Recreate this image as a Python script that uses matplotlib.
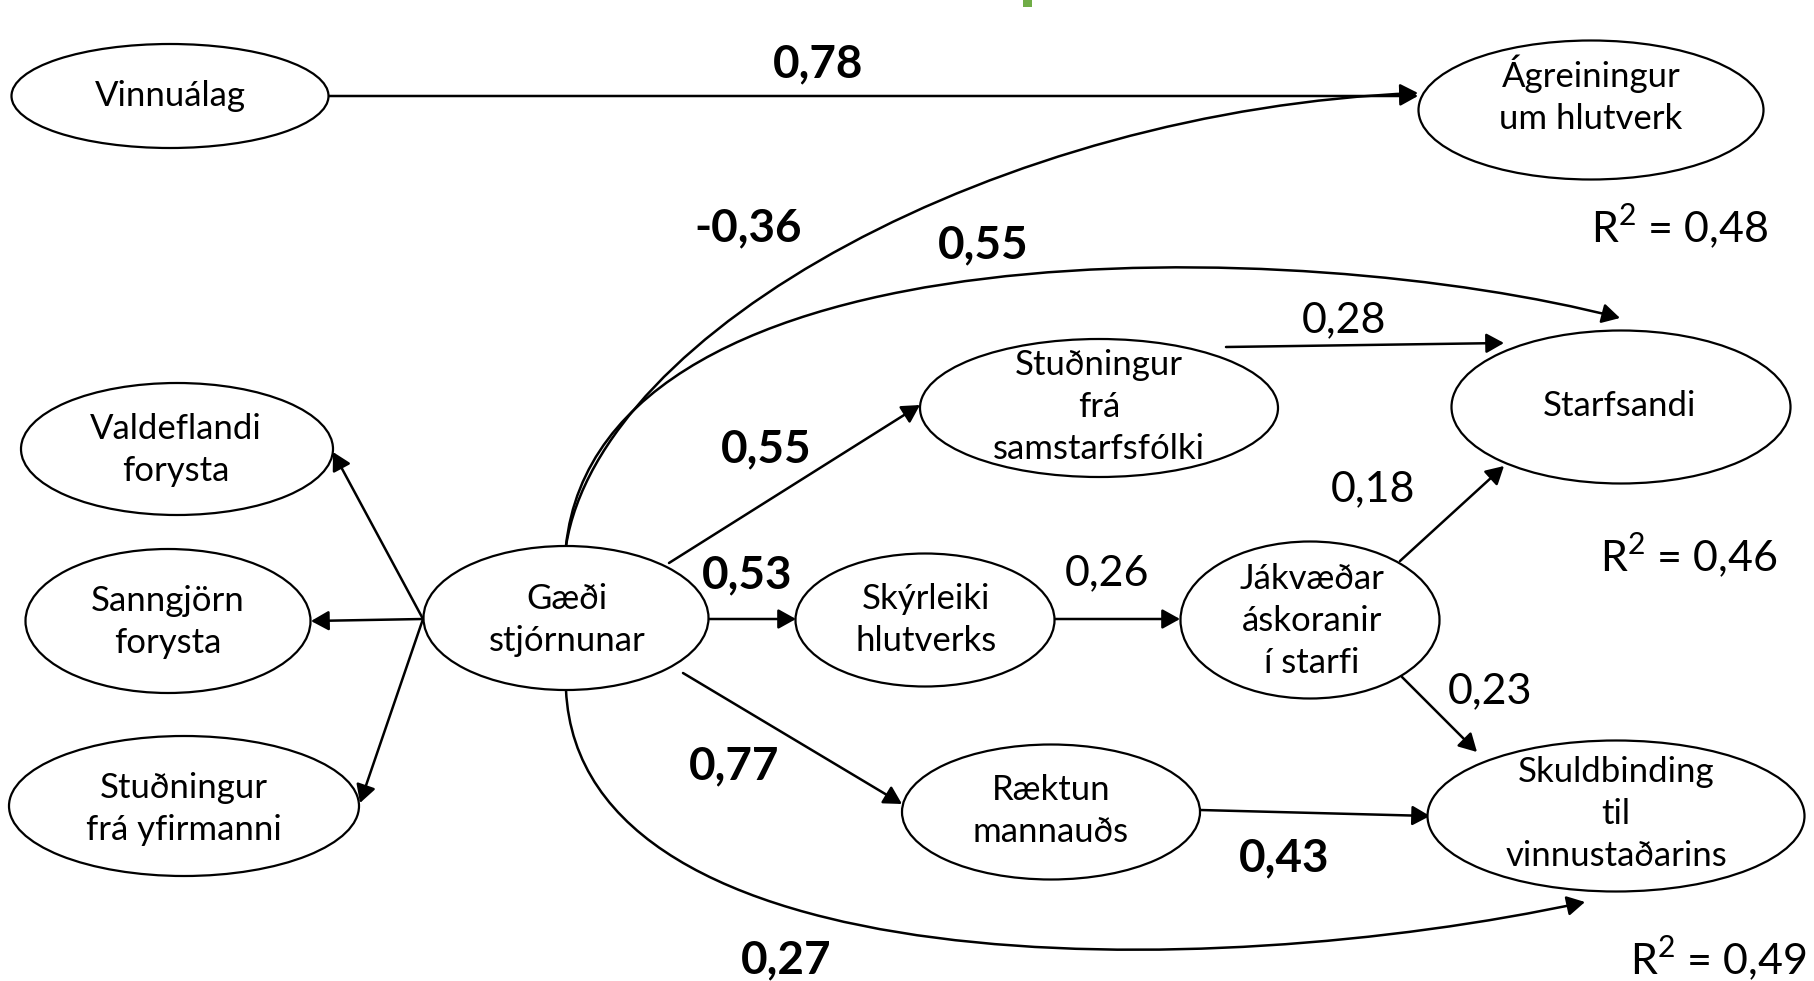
import matplotlib
matplotlib.use("Agg")
import matplotlib.pyplot as plt
from matplotlib.patches import Ellipse, FancyArrowPatch, Rectangle
from matplotlib.path import Path

plt.rcParams['font.family'] = ['Lato', 'DejaVu Sans']
plt.rcParams['mathtext.fontset'] = 'custom'
plt.rcParams['mathtext.rm'] = 'Lato'

# hugtök (breytur) i likaninu
node_names = ["vinna", "agr", "vald", "sann", "yfir", "gaedi", "samst",
              "skyr", "jakv", "starf", "raekt", "skuld"]
node_labels = ["Vinnuálag", "Ágreiningur\num hlutverk", "Valdeflandi\nforysta",
               "Sanngjörn\nforysta", "Stuðningur\nfrá yfirmanni", "Gæði\nstjórnunar",
               "Stuðningur\nfrá\nsamstarfsfólki", "Skýrleiki\nhlutverks",
               "Jákvæðar\náskoranir\ní starfi", "Starfsandi",
               "Ræktun\nmannauðs", "Skuldbinding\ntil\nvinnustaðarins"]

# stuðlar á örvum
path_coefs = ["0,78", "-0,36", "0,55", "0,28", "0,55", "0,18",
              "0,53", "0,26", "0,23", "0,77", "0,43", "0,27"]
path_bold = [True, True, True, False, True, False,
             True, False, False, True, True, True]

# skýringarhlutfall
r2_values = ["0,48", "0,46", "0,49"]

# --- uppsetning (pixlar) ---
node_xy = [(170, 96), (1591, 110), (177, 449), (168, 621), (184, 806), (566, 618),
           (1099, 408), (925, 620), (1310, 620), (1621, 407), (1051, 812), (1616, 816)]
node_wh = [(317, 104), (345, 139), (312, 132), (285, 144), (350, 140), (285, 144),
           (358, 138), (259, 133), (259, 157), (339, 153), (298, 135), (377, 151)]
text_xy = [(170, 96), (1591, 95), (176, 450), (168, 622), (184, 809), (567, 620),
           (1099, 407), (926, 620), (1312, 621), (1620, 406), (1051, 811), (1616, 814)]

straight = [((329, 96), (1418, 96)),
            ((669, 563), (920, 405)),
            ((706, 619), (796, 619)),
            ((1055, 619), (1180, 619)),
            ((1226, 347), (1504, 343)),
            ((1400, 561), (1504, 466)),
            ((1402, 677), (1477, 752)),
            ((683, 673), (902, 804)),
            ((1200, 810), (1430, 816)),
            ((423, 619), (333, 452)),
            ((423, 619), (311, 621)),
            ((423, 619), (360, 803))]

curves = [[(566, 546), (600, 330), (1000, 110), (1418, 93)],
          [(566, 546), (600, 220), (1300, 235), (1620, 318)],
          [(566, 690), (580, 985), (1200, 985), (1585, 902)]]

label_xy = [(818, 64), (748, 228), (983, 245), (1344, 320), (766, 449), (1373, 489),
            (747, 575), (1107, 573), (1490, 691), (734, 766), (1284, 858), (786, 960)]
r2_xy = [(1680, 226), (1689, 555), (1718, 958)]

W, H = 1814, 981
fig = plt.figure(figsize=(W / 100, H / 100), dpi=100, facecolor='white')
ax = fig.add_axes([0, 0, 1, 1])
ax.set_xlim(0, W)
ax.set_ylim(H, 0)
ax.axis('off')

# grænn smábútur efst
ax.add_patch(Rectangle((1023, 0), 9, 7, color='#70AD47', lw=0))

for (cx, cy), (w, h) in zip(node_xy, node_wh):
    ax.add_patch(Ellipse((cx, cy), w, h, fc='white', ec='black', lw=1.6, zorder=3))
for (tx, ty), lab in zip(text_xy, node_labels):
    ax.text(tx, ty, lab, ha='center', va='center', fontsize=25,
            linespacing=1.4, zorder=4)

arrow_kw = dict(arrowstyle='-|>,head_length=0.9,head_width=0.5',
                mutation_scale=12, color='black', lw=1.8, zorder=2,
                shrinkA=0, shrinkB=0)

for p0, p1 in straight:
    ax.add_patch(FancyArrowPatch(p0, p1, **arrow_kw))

for pts in curves:
    pth = Path(pts, [Path.MOVETO, Path.CURVE4, Path.CURVE4, Path.CURVE4])
    ax.add_patch(FancyArrowPatch(path=pth, **arrow_kw))

for (lx, ly), txt, b in zip(label_xy, path_coefs, path_bold):
    ax.text(lx, ly, txt, ha='center', va='center', fontsize=33 if b else 31,
            fontweight='bold' if b else 'normal', zorder=4)

for (rx, ry), val in zip(r2_xy, r2_values):
    ax.text(rx, ry, r"R$^{2}$ = " + val, ha='center', va='center', fontsize=31, zorder=4)

fig.savefig("out.png", dpi=100, facecolor='white')
